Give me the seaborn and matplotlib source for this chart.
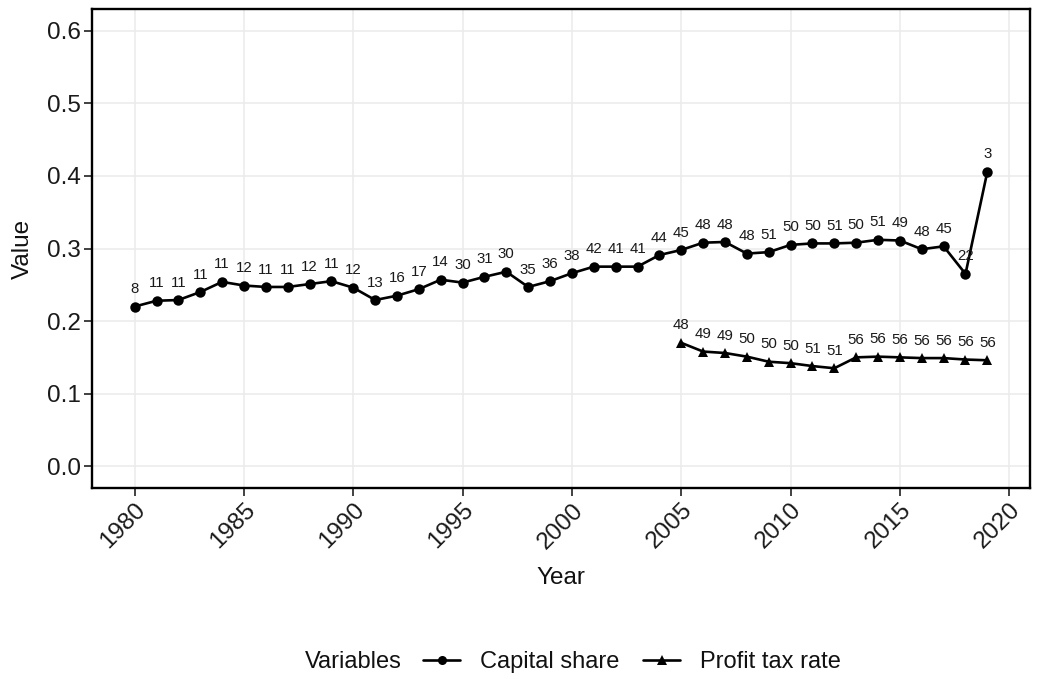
import numpy as np
import pandas as pd
import seaborn as sns
import matplotlib
matplotlib.use("Agg")
import matplotlib.pyplot as plt
from matplotlib.lines import Line2D

# datos
years_cap = list(range(1980, 2020))
capital_share = [0.220, 0.228, 0.229, 0.240, 0.254, 0.249, 0.247, 0.247, 0.251, 0.255,
                 0.246, 0.229, 0.235, 0.244, 0.257, 0.253, 0.261, 0.268, 0.247, 0.255,
                 0.266, 0.275, 0.275, 0.275, 0.291, 0.298, 0.308, 0.309, 0.293, 0.295,
                 0.305, 0.307, 0.307, 0.308, 0.312, 0.311, 0.299, 0.303, 0.265, 0.406]
cap_labels = [8, 11, 11, 11, 11, 12, 11, 11, 12, 11,
              12, 13, 16, 17, 14, 30, 31, 30, 35, 36,
              38, 42, 41, 41, 44, 45, 48, 48, 48, 51,
              50, 50, 51, 50, 51, 49, 48, 45, 22, 3]

years_tax = list(range(2005, 2020))
profit_tax = [0.170, 0.158, 0.156, 0.151, 0.144, 0.142, 0.138, 0.135, 0.150, 0.151,
              0.150, 0.149, 0.149, 0.147, 0.146]
tax_labels = [48, 49, 49, 50, 50, 50, 51, 51, 56, 56, 56, 56, 56, 56, 56]

df = pd.concat([
    pd.DataFrame({"Year": years_cap, "Value": capital_share, "n": cap_labels, "Variables": "Capital share"}),
    pd.DataFrame({"Year": years_tax, "Value": profit_tax, "n": tax_labels, "Variables": "Profit tax rate"}),
], ignore_index=True)

sns.set_style("whitegrid")
plt.rcParams["font.family"] = ["Liberation Sans", "DejaVu Sans"]

fig = plt.figure(figsize=(10.47, 6.79), dpi=100)
ax = fig.add_axes([92/1047, 1 - 488/679, (1030-92)/1047, (488-9)/679])

sns.lineplot(data=df, x="Year", y="Value", style="Variables", markers=["o", "^"],
             dashes=False, color="black", linewidth=1.9, markersize=7.5,
             markeredgewidth=0, ax=ax, legend=False)

# etiquetas encima de cada punto
for _, r in df.iterrows():
    ax.annotate(str(r["n"]), (r["Year"], r["Value"]), xytext=(0, 7.5), textcoords="offset points",
                ha="center", va="bottom", fontsize=10.8, color="#1a1a1a")

ax.set_xlim(1978.05, 2020.95)
ax.set_ylim(-0.03, 0.63)
ax.set_xticks(range(1980, 2021, 5))
ax.set_yticks(np.arange(0, 0.61, 0.1))
ax.set_yticklabels([f"{v:.1f}" for v in np.arange(0, 0.61, 0.1)])
ax.tick_params(axis="both", which="major", labelsize=17.5, length=5.5, width=1.3,
               color="#333333", labelcolor="#1a1a1a", bottom=True, left=True,
               direction="out", pad=2.5)
plt.setp(ax.get_xticklabels(), rotation=45, ha="right", rotation_mode="anchor")
ax.grid(color="#EBEBEB", linewidth=1.1)
for s in ax.spines.values():
    s.set_color("black")
    s.set_linewidth(1.7)
ax.set_xlabel("Year", fontsize=17.5, labelpad=10, color="#111111")
ax.set_ylabel("Value", fontsize=17.5, labelpad=9, color="#111111")

handles = [Line2D([], [], color="black", marker="o", markersize=6.5, linewidth=1.9, markeredgewidth=0),
           Line2D([], [], color="black", marker="^", markersize=7.5, linewidth=1.9, markeredgewidth=0)]
fig.legend(handles, ["Capital share", "Profit tax rate"], loc="center left",
           bbox_to_anchor=(423/1047, 17/679), ncol=2, frameon=False, fontsize=17,
           handlelength=1.57, columnspacing=1.0, handletextpad=0.85,
           borderpad=0, borderaxespad=0, labelcolor="#111111")
fig.text(305/1047, 17/679, "Variables", fontsize=17, va="center", ha="left", color="#111111")

fig.savefig("out.png", dpi=100)
